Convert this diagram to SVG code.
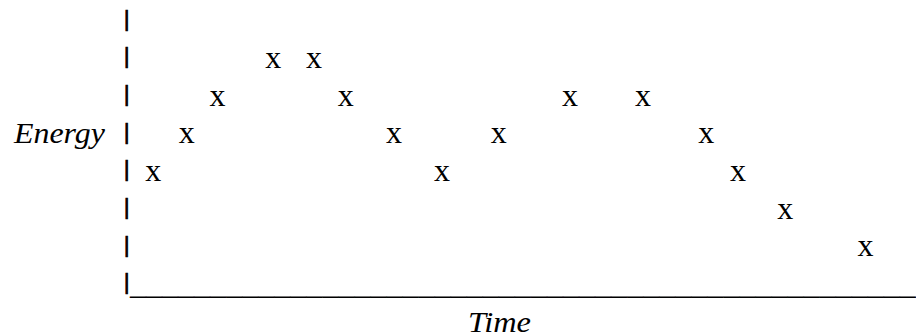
<svg xmlns="http://www.w3.org/2000/svg" width="916" height="336" viewBox="0 0 916 336">
<style>
text{font-family:"Liberation Serif","Times New Roman",serif;fill:#000}
.g{font-size:32px}
.p{font-size:32px;stroke:#000;stroke-width:0.9}
.x{font-size:32px;text-anchor:middle}
.lbl{font-size:30px;font-style:italic}
</style>
<rect width="916" height="336" fill="#fff"/>
<g id="y-axis">
<text class="p" transform="translate(123.5 30.3) scale(1 0.69)" y="-6.85">|</text>
<text class="p" transform="translate(123.5 68) scale(1 0.69)" y="-6.85">|</text>
<text class="p" transform="translate(123.5 105.7) scale(1 0.69)" y="-6.85">|</text>
<text class="p" transform="translate(123.5 143.3) scale(1 0.69)" y="-6.85">|</text>
<text class="p" transform="translate(123.5 181) scale(1 0.69)" y="-6.85">|</text>
<text class="p" transform="translate(123.5 218.7) scale(1 0.69)" y="-6.85">|</text>
<text class="p" transform="translate(123.5 256.3) scale(1 0.69)" y="-6.85">|</text>
<text class="p" transform="translate(123.5 294) scale(1 0.69)" y="-6.85">|</text>
</g>
<g id="x-axis">
<text class="g" x="129.9" y="294" textLength="786" lengthAdjust="spacingAndGlyphs">_________________________________________________</text>
</g>
<g id="points">
<text class="x" x="273.3" y="68">x</text>
<text class="x" x="314" y="68">x</text>
<text class="x" x="217.5" y="105.7">x</text>
<text class="x" x="345.7" y="105.7">x</text>
<text class="x" x="570" y="105.7">x</text>
<text class="x" x="643" y="105.7">x</text>
<text class="x" x="186.7" y="143.3">x</text>
<text class="x" x="394" y="143.3">x</text>
<text class="x" x="498.7" y="143.3">x</text>
<text class="x" x="706.3" y="143.3">x</text>
<text class="x" x="153.3" y="181">x</text>
<text class="x" x="442" y="181">x</text>
<text class="x" x="738" y="181">x</text>
<text class="x" x="785.3" y="218.7">x</text>
<text class="x" x="865.5" y="256.3">x</text>
</g>
<g id="labels">
<text id="energy" class="lbl" x="14" y="142.5" textLength="91" lengthAdjust="spacingAndGlyphs">Energy</text>
<text id="time" class="lbl" x="468" y="331.7" textLength="63" lengthAdjust="spacingAndGlyphs">Time</text>
</g>
</svg>
